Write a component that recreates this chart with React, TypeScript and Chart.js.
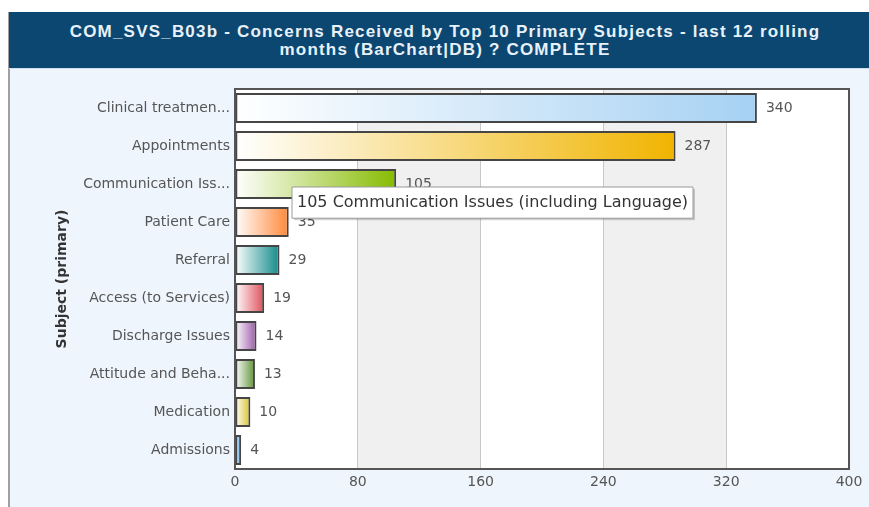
import React, { useEffect, useRef } from "react";
import { Chart, registerables, Tooltip } from "chart.js";

Chart.register(...registerables);

const titleLine1 = "COM_SVS_B03b - Concerns Received by Top 10 Primary Subjects - last 12 rolling";
const titleLine2 = "months (BarChart|DB) ? COMPLETE";
const axisTitle = "Subject (primary)";

const categories = [
  "Clinical treatmen...",
  "Appointments",
  "Communication Iss...",
  "Patient Care",
  "Referral",
  "Access (to Services)",
  "Discharge Issues",
  "Attitude and Beha...",
  "Medication",
  "Admissions",
];
const values = [340, 287, 105, 35, 29, 19, 14, 13, 10, 4];
const barColors = [
  "#a6d1f3",
  "#f0b400",
  "#86bb00",
  "#ff883a",
  "#128a8a",
  "#df4f5a",
  "#9a58a8",
  "#5e9236",
  "#d6c228",
  "#4ea3e0",
];
const xTicks = [0, 80, 160, 240, 320, 400];
const tooltipIndex = 2;
const tooltipName = "Communication Issues (including Language)";

const FONT = "'DejaVu Sans', Verdana, sans-serif";

(Tooltip.positioners as any).fixedNearBar = function (items: any[]) {
  if (!items.length) return false;
  const el = items[0].element;
  const xs = this.chart.scales.x;
  return { x: xs.getPixelForValue(0) + 57, y: el.y + 3 };
};

const bandsPlugin = {
  id: "bands",
  beforeDraw(chart: any) {
    const { ctx, chartArea } = chart;
    const xs = chart.scales.x;
    ctx.save();
    for (let i = 0; i < xTicks.length - 1; i++) {
      const a = xs.getPixelForValue(xTicks[i]);
      const b = xs.getPixelForValue(xTicks[i + 1]);
      ctx.fillStyle = i % 2 === 0 ? "#ffffff" : "#f0f0f0";
      ctx.fillRect(a, chartArea.top, b - a, chartArea.bottom - chartArea.top);
    }
    ctx.restore();
  },
  afterDatasetsDraw(chart: any) {
    const { ctx, chartArea } = chart;
    const meta = chart.getDatasetMeta(0);
    ctx.save();
    ctx.font = `14px ${FONT}`;
    ctx.fillStyle = "#555555";
    ctx.textBaseline = "middle";
    ctx.textAlign = "left";
    meta.data.forEach((el: any, i: number) => {
      ctx.fillText(String(values[i]), el.x + 9, el.y);
    });
    ctx.strokeStyle = "#555555";
    ctx.lineWidth = 2;
    ctx.strokeRect(
      chartArea.left,
      chartArea.top,
      chartArea.right - chartArea.left,
      chartArea.bottom - chartArea.top
    );
    ctx.restore();
  },
  beforeTooltipDraw(chart: any) {
    const t = chart.tooltip;
    if (!t || !t.opacity) return;
    const { ctx } = chart;
    ctx.save();
    ctx.fillStyle = "rgba(0,0,0,0.18)";
    ctx.fillRect(t.x + 2, t.y + 2, t.width, t.height);
    ctx.restore();
  },
};

export default function App() {
  const ref = useRef<HTMLCanvasElement>(null);

  useEffect(() => {
    if (!ref.current) return;
    const chart = new Chart(ref.current, {
      type: "bar",
      data: {
        labels: categories,
        datasets: [
          {
            data: values,
            backgroundColor: (c: any) => {
              const color = barColors[c.dataIndex % barColors.length];
              const chartRef = c.chart;
              if (!chartRef.chartArea || c.raw == null) return color;
              const xs = chartRef.scales.x;
              const x0 = xs.getPixelForValue(0);
              const x1 = xs.getPixelForValue(c.raw);
              if (!isFinite(x0) || !isFinite(x1) || x1 - x0 < 1) return color;
              const g = chartRef.ctx.createLinearGradient(x0, 0, x1, 0);
              g.addColorStop(0, "#ffffff");
              g.addColorStop(1, color);
              return g;
            },
            borderColor: "#454545",
            borderWidth: 2,
            borderSkipped: false,
            categoryPercentage: 0.8,
            barPercentage: 0.99,
          },
        ],
      },
      options: {
        indexAxis: "y",
        responsive: false,
        animation: false,
        events: [],
        layout: { padding: { top: 20, right: 20, left: 41, bottom: 0 } },
        scales: {
          x: {
            min: 0,
            max: 400,
            afterBuildTicks: (s: any) => {
              s.ticks = xTicks.map((v) => ({ value: v }));
            },
            afterFit: (s: any) => {
              s.height = 38;
            },
            grid: { color: "#c8c8c8", drawTicks: false, lineWidth: 1 },
            border: { display: false },
            ticks: {
              color: "#555555",
              font: { family: FONT, size: 14 },
              padding: 5,
              maxRotation: 0,
            },
          },
          y: {
            afterFit: (s: any) => {
              s.width = 185;
            },
            grid: { display: false, drawTicks: false },
            border: { display: false },
            ticks: {
              color: "#555555",
              font: { family: FONT, size: 14 },
              padding: 5,
              autoSkip: false,
            },
            title: {
              display: true,
              text: axisTitle,
              color: "#333333",
              font: { family: FONT, size: 14, weight: "bold" },
            },
          },
        },
        plugins: {
          legend: { display: false },
          tooltip: {
            enabled: true,
            position: "fixedNearBar" as any,
            xAlign: "left",
            yAlign: "top",
            caretSize: 0,
            caretPadding: 0,
            cornerRadius: 0,
            displayColors: false,
            backgroundColor: "#ffffff",
            borderColor: "#9a9a9a",
            borderWidth: 1,
            bodyColor: "#333333",
            bodyFont: { family: FONT, size: 16 },
            padding: { x: 5, y: 6 },
            callbacks: {
              title: () => "",
              label: (item: any) => `${item.raw} ${tooltipName}`,
            },
          },
        },
      },
      plugins: [bandsPlugin],
    } as any);

    chart.tooltip!.setActiveElements([{ datasetIndex: 0, index: tooltipIndex }], { x: 0, y: 0 });
    chart.update();

    return () => chart.destroy();
  }, []);

  return (
    <div
      style={{
        position: "absolute",
        left: 0,
        top: 0,
        width: 869,
        height: 507,
        overflow: "hidden",
        background: "#ffffff",
      }}
    >
      <div
        style={{
          position: "absolute",
          left: 8,
          top: 12,
          width: 861,
          height: 495,
          borderLeft: "2px solid #a0a0a0",
          background: "#eef5fc",
          boxSizing: "border-box",
        }}
      />
      <div
        style={{
          position: "absolute",
          left: 9,
          top: 12,
          width: 860,
          height: 56,
          background: "#0b4771",
          borderBottom: "1px solid #cfe0ef",
        }}
      />
      <div
        style={{
          position: "absolute",
          left: 9,
          top: 12,
          width: 872,
          paddingTop: 11,
          textAlign: "center",
          lineHeight: "18px",
          fontFamily: "'Liberation Sans', Arial, sans-serif",
          fontWeight: "bold",
          fontSize: 17,
          letterSpacing: "1.2px",
          color: "#e8f1f9",
          whiteSpace: "nowrap",
        }}
      >
        {titleLine1}
        <br />
        {titleLine2}
      </div>
      <canvas
        ref={ref}
        width={860}
        height={438}
        style={{ position: "absolute", left: 9, top: 69, width: 860, height: 438 }}
      />
    </div>
  );
}
